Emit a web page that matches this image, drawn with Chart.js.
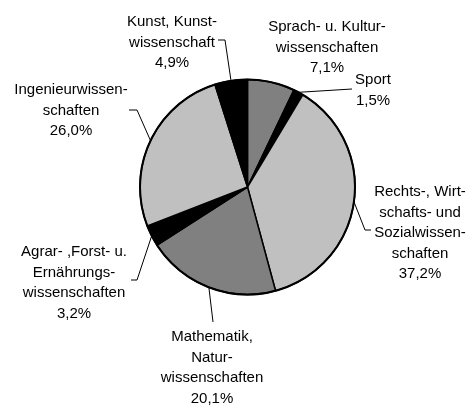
<!DOCTYPE html>
<html>
<head>
<meta charset="utf-8">
<script src="https://cdn.jsdelivr.net/npm/chart.js@4"></script>
<style>
  html,body{margin:0;padding:0;background:#fff}
  #wrap{width:470px;height:405px}
</style>
</head>
<body>
<div id="wrap"><canvas id="pie" width="470" height="405"></canvas></div>
<script>
// Fächergruppen, im Uhrzeigersinn ab 12 Uhr
const labels=[
  ['Sprach- u. Kultur-','wissenschaften'],
  ['Sport'],
  ['Rechts-, Wirt-','schafts- und','Sozialwissen-','schaften'],
  ['Mathematik,','Natur-','wissenschaften'],
  ['Agrar- ,Forst- u.','Ernährungs-','wissenschaften'],
  ['Ingenieurwissen-','schaften'],
  ['Kunst, Kunst-','wissenschaft']
];
const values=[7.1,1.5,37.2,20.1,3.2,26.0,4.9];
const fills=['#808080','#000000','#c0c0c0','#808080','#000000','#c0c0c0','#000000'];

// wo die Beschriftung steht (Mitte der ersten Zeile) und Knickpunkte der Führungslinie
const spots=[
  {x:327,y:27,lead:[]},
  {x:373,y:80,lead:[[352,89]]},
  {x:420,y:192,lead:[[365,230],[371,230]]},
  {x:212,y:337,lead:[[213,322]]},
  {x:74,y:252,lead:[[137,280],[131,280]]},
  {x:71,y:90,lead:[[137,110],[129,110]]},
  {x:172,y:22,lead:[[225,40],[218,40]]}
];
const fmt=v=>v.toFixed(1).replace('.',',')+'%';

const callouts={id:'callouts',afterDatasetsDraw(chart){
  const ctx=chart.ctx, arcs=chart.getDatasetMeta(0).data;
  ctx.save();
  ctx.font='15px "Liberation Sans", Arial, sans-serif';
  ctx.textAlign='center'; ctx.textBaseline='middle';
  ctx.fillStyle='#000'; ctx.strokeStyle='#000'; ctx.lineWidth=1;
  arcs.forEach((a,i)=>{
    const p=spots[i];
    const {x,y,startAngle,endAngle,outerRadius}=a.getProps(['x','y','startAngle','endAngle','outerRadius'],true);
    const m=(startAngle+endAngle)/2;
    if(p.lead.length){
      ctx.beginPath();
      ctx.moveTo(x+Math.cos(m)*outerRadius,y+Math.sin(m)*outerRadius);
      p.lead.forEach(q=>ctx.lineTo(q[0],q[1]));
      ctx.stroke();
    }
    [...labels[i],fmt(values[i])].forEach((t,k)=>ctx.fillText(t,p.x,p.y+k*20.5));
  });
  // Außenrand etwas kräftiger
  const a0=arcs[0];
  ctx.lineWidth=2;
  ctx.beginPath(); ctx.arc(a0.x,a0.y,a0.outerRadius,0,Math.PI*2); ctx.stroke();
  ctx.restore();
}};

new Chart(document.getElementById('pie'),{
  type:'pie',
  data:{labels:labels.map(l=>l.join(' ')),datasets:[{data:values,backgroundColor:fills,borderColor:'#000',borderWidth:1.5}]},
  options:{
    responsive:false,animation:false,
    radius:107.5,
    layout:{padding:{left:25,right:0,top:0,bottom:31}},
    plugins:{legend:{display:false},tooltip:{enabled:false}}
  },
  plugins:[callouts]
});
</script>
</body>
</html>
